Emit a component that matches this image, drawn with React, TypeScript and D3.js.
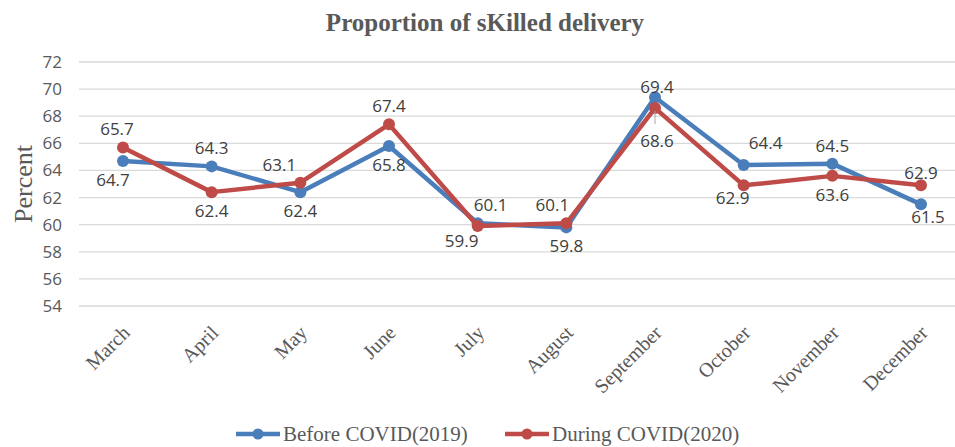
import React from "react";
import * as d3 from "d3";

const months = ["March", "April", "May", "June", "July", "August", "September", "October", "November", "December"];
const before2019 = [64.7, 64.3, 62.4, 65.8, 60.1, 59.8, 69.4, 64.4, 64.5, 61.5];
const during2020 = [65.7, 62.4, 63.1, 67.4, 59.9, 60.1, 68.6, 62.9, 63.6, 62.9];
const yTicks = [54, 56, 58, 60, 62, 64, 66, 68, 70, 72];

// label placement: 1 = above the point, -1 = below
const beforePos = [-1, 1, -1, -1, 1, -1, 1, 1, 1, -1];
const duringPos = [1, -1, 1, 1, -1, 1, -1, -1, -1, 1];

const W = 955, H = 447;
const BLUE = "#4a7ebb";
const RED = "#be4b48";

// small nudges so labels sit where Excel put them (dx, dy in px)
const nudge: Record<string, [number, number]> = {
  "b0": [-10, 0], "b4": [13, 0], "b6": [2, 8], "b7": [22, -4], "b9": [7, -6],
  "d0": [-6, 0], "d2": [-21, 0], "d4": [-16, -4], "d5": [-14, 0], "d6": [2, 14], "d7": [-11, -6], "d9": [0, 6],
};

export default function App() {
  const x = d3.scalePoint<string>().domain(months).range([123, 921]);
  const y = d3.scaleLinear().domain([54, 72]).range([306, 62]);
  const line = d3.line<number>().x((d, i) => x(months[i])!).y((d) => y(d));

  const series = [
    { key: "b", name: "Before COVID(2019)", values: before2019, color: BLUE, pos: beforePos },
    { key: "d", name: "During COVID(2020)", values: during2020, color: RED, pos: duringPos },
  ];

  const sepX = x("September")!;

  return (
    <svg width={W} height={H} style={{ position: "absolute", left: 0, top: 0, background: "#fff" }}>
      <text x={485} y={31} textAnchor="middle" fontFamily="Liberation Serif" fontWeight="bold" fontSize={25} fill="#595959">
        Proportion of sKilled delivery
      </text>

      {yTicks.map((t) => (
        <g key={t}>
          <line x1={79} x2={W} y1={y(t)} y2={y(t)} stroke="#d9d9d9" strokeWidth={1.3} />
          <text x={62} y={y(t)} dy="0.35em" textAnchor="end" fontFamily="Open Sans" fontSize={17} fill="#595959">
            {t}
          </text>
        </g>
      ))}

      <text transform={`translate(32,${y(63)}) rotate(-90)`} textAnchor="middle" fontFamily="Liberation Serif" fontSize={26} fill="#595959">
        Percent
      </text>

      {months.map((m) => (
        <text key={m} transform={`translate(${x(m)! + 8},${334}) rotate(-45)`} textAnchor="end" fontFamily="Liberation Serif" fontSize={20} fill="#595959">
          {m}
        </text>
      ))}

      {series.map((s) => (
        <g key={s.name}>
          <path d={line(s.values)!} fill="none" stroke={s.color} strokeWidth={4.5} strokeLinejoin="round" />
          {s.values.map((v, i) => (
            <circle key={i} cx={x(months[i])} cy={y(v)} r={6} fill={s.color} />
          ))}
        </g>
      ))}

      {/* leader line for the September 2020 label */}
      <line x1={sepX} x2={sepX} y1={y(during2020[6]) + 3} y2={y(during2020[6]) + 16} stroke="#a6a6a6" strokeWidth={1} />

      {series.map((s) =>
        s.values.map((v, i) => {
          const [dx, dy] = nudge[s.key + i] || [0, 0];
          return (
            <text
              key={s.key + i}
              x={x(months[i])! + dx}
              y={y(v) + (s.pos[i] > 0 ? -12 : 25) + dy}
              textAnchor="middle"
              fontFamily="Open Sans"
              fontSize={17}
              fill="#404040"
            >
              {v.toFixed(1)}
            </text>
          );
        })
      )}

      {series.map((s, k) => {
        const lx = k === 0 ? 236 : 505;
        return (
          <g key={s.name}>
            <line x1={lx} x2={lx + 44} y1={434} y2={434} stroke={s.color} strokeWidth={4.5} />
            <circle cx={lx + 22} cy={434} r={5.5} fill={s.color} />
            <text x={lx + 47} y={434} dy="0.35em" fontFamily="Liberation Serif" fontSize={21} fill="#595959">
              {s.name}
            </text>
          </g>
        );
      })}
    </svg>
  );
}
